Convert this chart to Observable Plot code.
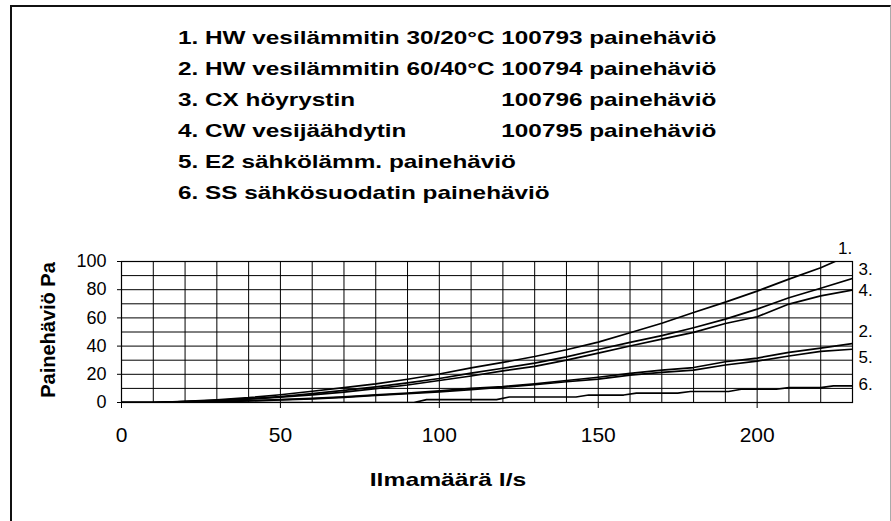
<!DOCTYPE html>
<html><head><meta charset="utf-8">
<script src="https://cdn.jsdelivr.net/npm/d3@7"></script>
<script src="https://cdn.jsdelivr.net/npm/@observablehq/plot@0.6"></script>
<style>
html,body{margin:0;padding:0;background:#fff;overflow:hidden;}
#wrap{position:relative;width:891px;height:521px;font-family:"Liberation Sans",Arial,sans-serif;color:#000;overflow:hidden;}
#border{position:absolute;left:10px;top:5px;width:878px;height:560px;border-top:2px solid #111;border-left:2px solid #111;border-right:1px solid #aaa;}
#legend{position:absolute;left:178px;top:0;width:700px;height:220px;}
.lg{position:absolute;left:0;white-space:nowrap;font-weight:bold;font-size:19px;line-height:22px;transform:scaleX(1.28);transform-origin:0 0;}
.col{display:inline-block;width:252.6px;}
#chart{position:absolute;left:0;top:220px;}
#ylab{position:absolute;left:48px;top:330px;transform:translate(-50%,-50%) rotate(-90deg);font-weight:bold;font-size:20px;white-space:nowrap;}
#xlab{position:absolute;left:448px;top:480px;transform:translate(-50%,-50%) scaleX(1.3);font-weight:bold;font-size:19px;white-space:nowrap;}
</style></head>
<body>
<div id="wrap">
  <div id="border"></div>
  <div id="legend"></div>
  <div id="chart"></div>
  <div id="ylab"></div>
  <div id="xlab"></div>
</div>
<script>
// ---- data ----
const legendLines = [
  ["1. HW vesilämmitin 30/20°C ", "100793 painehäviö"],
  ["2. HW vesilämmitin 60/40°C ", "100794 painehäviö"],
  ["3. CX höyrystin", "100796 painehäviö"],
  ["4. CW vesijäähdytin", "100795 painehäviö"],
  ["5. E2 sähkölämm. painehäviö", ""],
  ["6. SS sähkösuodatin painehäviö", ""]
];
const yTitle = "Painehäviö Pa";
const xTitle = "Ilmamäärä l/s";
const endLabels = ["1.", "2.", "3.", "4.", "5.", "6."];
const xTicks = [0, 50, 100, 150, 200];
const yTicks = [0, 20, 40, 60, 80, 100];

const airflow = [0,10,20,30,40,50,60,70,80,90,100,110,120,130,140,150,160,170,180,190,200,210,220,230];
const airflow1 = [0,10,20,30,40,50,60,70,80,90,100,110,120,130,140,150,160,170,180,190,200,210,220,224.5];
const dp1 = [0,0,0.8,1.9,3.4,5.5,8.0,10.5,13.2,16.5,20.2,24.6,28.4,32.6,37.4,42.8,49.5,56.2,63.8,71.2,79.0,87.5,95.6,100];
const dp2 = [0,0,0.3,0.7,1.3,2.0,2.9,4.0,5.4,6.7,8.3,10.0,11.3,13.2,15.6,17.9,20.6,23.0,24.8,28.9,31.5,35.5,38.6,41.8];
const dp3 = [0,0,0.7,1.5,2.7,4.2,6.3,8.6,11.1,13.9,17.0,20.8,24.3,27.9,32.4,37.6,42.6,47.4,53.0,59.1,66.2,74.3,81.0,88.0];
const dp4 = [0,0,0.6,1.3,2.4,3.8,5.4,7.4,9.8,12.4,15.6,18.8,22.4,25.6,30.0,35.0,40.1,45.0,49.7,56.0,60.8,69.8,75.6,79.7];
const dp5 = [0,0,0.3,0.6,1.1,1.8,2.6,3.6,5.0,6.2,7.6,9.2,10.8,12.6,14.7,16.6,19.4,21.3,23.0,26.6,29.4,33.0,36.2,37.8];
const airflow6 = [0,92,96,118,122,143,147,158,162,175,179,191,195,206,210,220,224,230];
const dp6 = [0,0,2.0,2.0,3.9,3.9,5.3,5.3,6.6,6.6,7.8,7.8,9.4,9.4,10.6,10.6,11.8,11.8];

// ---- build ----
const seriesX = [airflow1, airflow, airflow, airflow, airflow, airflow6];
const seriesY = [dp1, dp2, dp3, dp4, dp5, dp6];
const rows = [];
seriesY.forEach((ys, i) => ys.forEach((v, j) => rows.push({s: i, x: seriesX[i][j], y: v})));
const ends = seriesY.map((ys, i) => ({s: i, label: endLabels[i], x: seriesX[i][ys.length - 1], y: ys[ys.length - 1]}));

const leg = document.getElementById("legend");
const tops = [27, 58, 89, 119.5, 150.5, 181.5];
legendLines.forEach(([a, b], i) => {
  const d = document.createElement("div");
  d.className = "lg";
  d.style.top = tops[i] + "px";
  if (i === 2 || i === 3) {
    const s = document.createElement("span"); s.className = "col"; s.textContent = a;
    d.appendChild(s); d.appendChild(document.createTextNode(b));
  } else {
    d.textContent = a + b;
  }
  leg.appendChild(d);
});
document.getElementById("ylab").textContent = yTitle;
document.getElementById("xlab").textContent = xTitle;

const labelOffsets = [
  {dx: 10, dy: -13, anchor: "middle"},
  {dx: 6, dy: -12, anchor: "start"},
  {dx: 6, dy: -9, anchor: "start"},
  {dx: 6, dy: 0, anchor: "start"},
  {dx: 6, dy: 8, anchor: "start"},
  {dx: 6, dy: -1, anchor: "start"}
];

const chart = Plot.plot({
  width: 891,
  height: 301,
  marginLeft: 121,
  marginRight: 39,
  marginTop: 41,
  marginBottom: 119,
  style: {fontFamily: "Liberation Sans, Arial, sans-serif", fontSize: "18px", background: "transparent", color: "#000"},
  x: {domain: [0, 230]},
  y: {domain: [0, 100]},
  marks: [
    Plot.gridX(d3.range(0, 231, 10), {stroke: "#000", strokeOpacity: 1, strokeWidth: 1}),
    Plot.gridY(d3.range(0, 101, 10), {stroke: "#000", strokeOpacity: 1, strokeWidth: 1}),
    Plot.line(rows, {x: "x", y: "y", z: "s", stroke: "#000", strokeWidth: 1.7, clip: true}),
    Plot.frame({stroke: "#000", strokeWidth: 1.2}),
    Plot.axisX({ticks: xTicks, tickSize: 6, tickPadding: 19, fontSize: 21, label: null, stroke: "#000"}),
    Plot.axisY({ticks: yTicks, tickSize: 4, tickPadding: 11, fontSize: 18, label: null, stroke: "#000"}),
    ...ends.map((e, i) => Plot.text([e], {x: "x", y: "y", text: "label", dx: labelOffsets[i].dx, dy: labelOffsets[i].dy, textAnchor: labelOffsets[i].anchor, fontSize: 17, fill: "#000"}))
  ]
});
document.getElementById("chart").appendChild(chart);
</script>
</body></html>
